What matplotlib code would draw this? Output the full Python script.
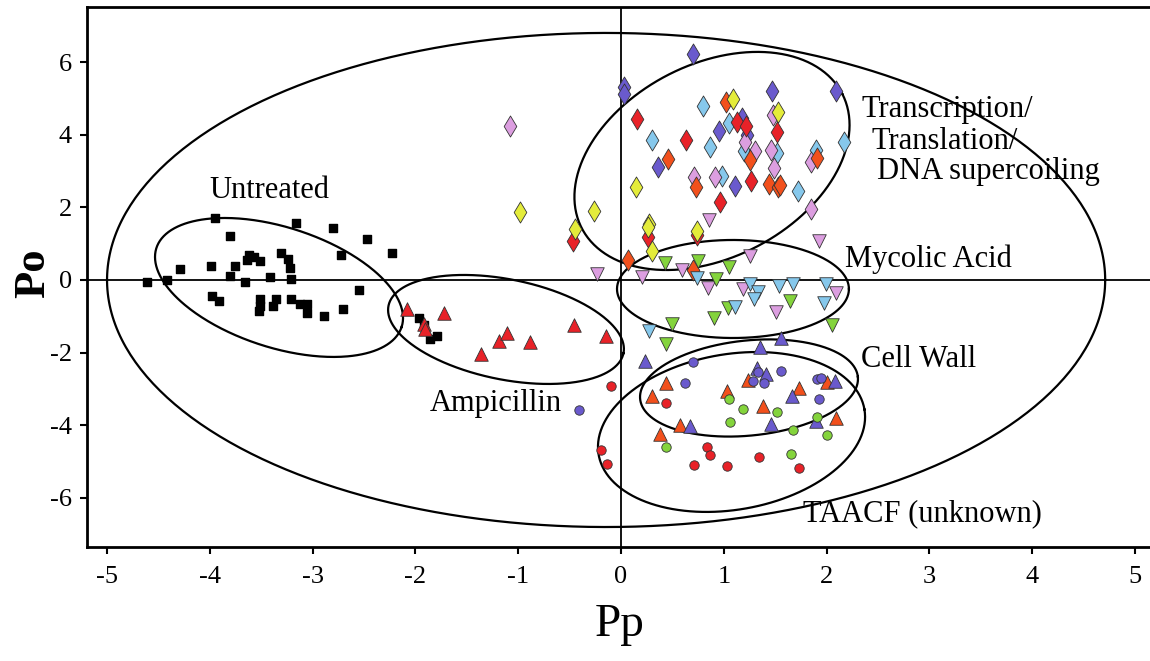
import matplotlib.pyplot as plt
import numpy as np

plt.rcParams['font.family'] = ['Liberation Serif', 'DejaVu Serif']
plt.rcParams['axes.unicode_minus'] = False

# Untreated (black squares)
untreated_x = [-3.95, -3.16, -2.80, -2.47, -2.23, -3.80, -2.72, -4.29, -3.99, -3.76, -3.64,
               -3.62, -3.57, -3.51, -3.31, -3.24, -3.22, -3.80, -3.66, -3.41, -3.21, -4.61,
               -4.42, -2.55, -3.98, -3.91, -3.51, -3.36, -3.51, -3.39, -3.52, -3.21, -3.12,
               -3.05, -3.05, -2.89, -2.70, -1.97, -1.92, -1.86, -1.79]
untreated_y = [1.70, 1.58, 1.43, 1.12, 0.74, 1.22, 0.69, 0.30, 0.39, 0.39, 0.55, 0.69, 0.62,
               0.52, 0.75, 0.57, 0.34, 0.11, -0.06, 0.08, 0.03, -0.06, 0.0, -0.28, -0.44,
               -0.58, -0.51, -0.51, -0.72, -0.72, -0.86, -0.51, -0.65, -0.67, -0.90, -0.99,
               -0.81, -1.05, -1.25, -1.62, -1.55]

# Ampicillin (red triangles)
amp_x = [-2.08, -1.72, -1.92, -1.91, -1.36, -1.19, -1.11, -0.89, -0.46, -0.15]
amp_y = [-0.79, -0.90, -1.21, -1.34, -2.04, -1.67, -1.46, -1.71, -1.24, -1.55]

# Transcription / translation / DNA supercoiling (diamonds)
dia_purple_x = [0.70, 0.03, 0.03, 1.47, 2.09, 1.18, 1.23, 0.95, 0.36, 1.11]
dia_purple_y = [6.23, 5.31, 5.11, 5.20, 5.19, 4.47, 3.98, 4.10, 3.12, 2.59]
dia_blue_x = [0.80, 1.05, 0.30, 0.87, 1.20, 1.52, 1.90, 2.17, 0.98, 1.72]
dia_blue_y = [4.78, 4.32, 3.86, 3.66, 3.55, 3.49, 3.58, 3.79, 2.87, 2.46]
dia_plum_x = [-1.08, 1.48, 1.21, 1.30, 1.46, 1.85, 1.49, 0.71, 0.91, 1.85]
dia_plum_y = [4.24, 4.53, 3.81, 3.56, 3.58, 3.24, 3.07, 2.83, 2.83, 1.95]
dia_red_x = [-0.47, 0.16, 1.13, 1.22, 1.52, 0.63, 1.26, 0.96, 0.26, 0.74]
dia_red_y = [1.08, 4.44, 4.36, 4.25, 4.07, 3.86, 2.72, 2.14, 1.19, 1.24]
dia_orange_x = [1.02, 1.25, 1.91, 0.46, 0.73, 1.44, 1.53, 1.55, 0.07, 0.70]
dia_orange_y = [4.90, 3.29, 3.36, 3.33, 2.55, 2.64, 2.55, 2.62, 0.55, 0.27]
dia_yellow_x = [-0.98, -0.26, -0.45, 1.09, 1.53, 0.15, 0.27, 0.26, 0.74, 0.30]
dia_yellow_y = [1.88, 1.91, 1.40, 4.99, 4.62, 2.55, 1.54, 1.46, 1.35, 0.80]

# Mycolic acid (down triangles)
myc_plum_x = [0.86, 1.93, 1.25, 0.59, -0.23, 0.20, 0.85, 1.19, 2.09, 1.51]
myc_plum_y = [1.66, 1.08, 0.66, 0.27, 0.17, 0.08, -0.21, -0.26, -0.35, -0.87]
myc_green_x = [0.43, 0.75, 1.05, 0.92, 1.64, 1.04, 0.90, 0.50, 2.05, 0.44]
myc_green_y = [0.48, 0.51, 0.37, 0.02, -0.58, -0.76, -1.06, -1.21, -1.25, -1.76]
myc_blue_x = [0.74, 1.25, 1.33, 1.29, 1.54, 1.67, 1.99, 1.97, 1.11, 0.27]
myc_blue_y = [0.06, -0.12, -0.32, -0.52, -0.17, -0.10, -0.12, -0.63, -0.75, -1.41]

# Cell wall (up triangles)
cw_orange_x = [0.44, 0.30, 1.03, 1.24, 1.38, 1.73, 2.00, 0.57, 0.38, 2.09]
cw_orange_y = [-2.84, -3.18, -3.05, -2.74, -3.48, -2.96, -2.82, -3.99, -4.24, -3.80]
cw_purple_x = [0.23, 1.35, 1.56, 1.32, 1.41, 1.66, 2.08, 0.67, 1.46, 1.90]
cw_purple_y = [-2.24, -1.85, -1.59, -2.42, -2.58, -3.20, -2.77, -4.01, -3.96, -3.88]

# TAACF unknown (circles)
unk_purple_x = [0.70, 0.62, 1.56, 1.28, 1.39, 1.33, 1.91, 1.95, 1.93, -0.41]
unk_purple_y = [-2.26, -2.84, -2.51, -2.79, -2.84, -2.54, -2.72, -2.70, -3.28, -3.57]
unk_green_x = [1.05, 1.19, 1.52, 1.06, 1.91, 1.67, 2.00, 0.44, 1.65]
unk_green_y = [-3.27, -3.54, -3.64, -3.90, -3.76, -4.13, -4.26, -4.59, -4.80]
unk_red_x = [-0.10, 0.44, 0.84, 0.87, 0.71, 1.03, 1.34, 1.73, -0.19, -0.14]
unk_red_y = [-2.93, -3.39, -4.60, -4.83, -5.09, -5.11, -4.86, -5.18, -4.68, -5.07]

# Ellipses: centre, and two conjugate semi-axis vectors (data units)
ellipses = [
    ((-0.145, 0.0), (4.855, 0.0), (0.0, 6.8)),
    ((-3.327, -0.206), (1.193, -1.085), (0.179, 1.575)),
    ((-1.119, -1.362), (1.143, -0.652), (0.096, 1.351)),
    ((0.885, 3.276), (1.267, 1.850), (-0.431, 2.364)),
    ((1.089, -0.248), (1.128, 0.0), (0.0, 1.349)),
    ((1.245, -2.973), (1.059, 0.306), (-0.047, 1.302)),
    ((1.075, -4.184), (1.293, 0.622), (-0.127, 2.111)),
]

PURPLE = '#6a5acd'
LBLUE = '#86c8ec'
PLUM = '#dc9ee0'
RED = '#e82228'
ORANGE = '#f2501c'
YELLOW = '#e4ec3a'
GREEN = '#84d43c'

fig = plt.figure(figsize=(11.5, 6.61), dpi=100)
ax = fig.add_axes([87 / 1150, 1 - 547 / 661, 1063 / 1150, 540 / 661])

ax.axhline(0, color='black', lw=1.3, zorder=1)
ax.axvline(0, color='black', lw=1.3, zorder=1)

t = np.linspace(0, 2 * np.pi, 400)
for (cx, cy), (ux, uy), (vx, vy) in ellipses:
    ax.plot(cx + ux * np.cos(t) + vx * np.sin(t),
            cy + uy * np.cos(t) + vy * np.sin(t), color='black', lw=1.6, zorder=2)

ek = dict(edgecolors='#333333', linewidths=0.6, zorder=3)
ax.scatter(untreated_x, untreated_y, marker='s', s=32, color='black', zorder=3)
ax.scatter(amp_x, amp_y, marker='^', s=95, color=RED, **ek)

for xs, ys, c in [(dia_purple_x, dia_purple_y, PURPLE), (dia_blue_x, dia_blue_y, LBLUE),
                  (dia_plum_x, dia_plum_y, PLUM), (dia_red_x, dia_red_y, RED),
                  (dia_orange_x, dia_orange_y, ORANGE), (dia_yellow_x, dia_yellow_y, YELLOW)]:
    ax.scatter(xs, ys, marker='d', s=115, color=c, **ek)

for xs, ys, c in [(myc_plum_x, myc_plum_y, PLUM), (myc_green_x, myc_green_y, GREEN),
                  (myc_blue_x, myc_blue_y, LBLUE)]:
    ax.scatter(xs, ys, marker='v', s=95, color=c, **ek)

for xs, ys, c in [(cw_orange_x, cw_orange_y, ORANGE), (cw_purple_x, cw_purple_y, PURPLE)]:
    ax.scatter(xs, ys, marker='^', s=95, color=c, **ek)

for xs, ys, c in [(unk_purple_x, unk_purple_y, PURPLE), (unk_green_x, unk_green_y, GREEN),
                  (unk_red_x, unk_red_y, RED)]:
    ax.scatter(xs, ys, marker='o', s=46, color=c, **ek)

fs = 22
ax.text(-4.0, 2.26, 'Untreated', fontsize=fs, va='baseline')
ax.text(-1.86, -3.62, 'Ampicillin', fontsize=fs, va='baseline')
ax.text(2.34, 4.49, 'Transcription/', fontsize=fs, va='baseline')
ax.text(2.44, 3.61, 'Translation/', fontsize=fs, va='baseline')
ax.text(2.49, 2.78, 'DNA supercoiling', fontsize=fs, va='baseline')
ax.text(2.18, 0.37, 'Mycolic Acid', fontsize=fs, va='baseline')
ax.text(2.33, -2.39, 'Cell Wall', fontsize=fs, va='baseline')
ax.text(1.77, -6.65, 'TAACF (unknown)', fontsize=fs, va='baseline')

ax.set_xlim(-5.195, 5.146)
ax.set_ylim(-7.35, 7.514)
ax.set_xticks(range(-5, 6))
ax.set_yticks(range(-6, 7, 2))
ax.tick_params(direction='out', length=5, width=1.5, labelsize=19, pad=6)
ax.tick_params(axis='x', pad=9)
for side in ['left', 'top', 'bottom']:
    ax.spines[side].set_linewidth(2)
ax.spines['right'].set_visible(False)

fig.text(33 / 1150, 1 - 273 / 661, 'Po', fontsize=32, fontweight='bold',
         rotation=90, ha='center', va='center')
fig.text(620 / 1150, 1 - 625 / 661, 'Pp', fontsize=34, ha='center', va='center')

fig.savefig('out.png', dpi=100)
